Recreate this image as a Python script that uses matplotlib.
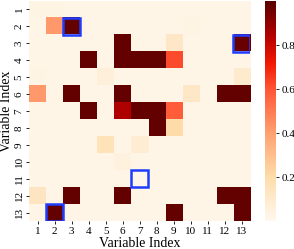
import numpy as np
import matplotlib
matplotlib.use("Agg")
import matplotlib.pyplot as plt
from matplotlib.colors import LinearSegmentedColormap
from matplotlib.patches import Rectangle

plt.rcParams["font.family"] = ["Liberation Serif", "DejaVu Serif"]

labels = [str(i) for i in range(1, 14)]

# row-by-row values of the 13x13 matrix (rows 1..13, cols 1..13)
bg = 0.02
row1 = [0.03, 0.03, bg, bg, bg, bg, bg, bg, bg, bg, bg, bg, bg]
row2 = [bg, 0.42, 0.98, bg, bg, bg, bg, bg, bg, 0.03, bg, bg, bg]
row3 = [bg, bg, bg, bg, bg, 0.98, bg, bg, 0.12, bg, bg, bg, 0.97]
row4 = [bg, bg, bg, 0.98, bg, 0.98, 0.98, 0.98, 0.62, bg, bg, bg, bg]
row5 = [0.03, bg, bg, bg, 0.06, bg, bg, bg, bg, bg, bg, bg, 0.10]
row6 = [0.42, bg, 0.98, bg, bg, 0.98, bg, bg, bg, 0.12, bg, 0.98, 0.98]
row7 = [bg, bg, bg, 0.98, bg, 0.85, 0.98, 0.98, 0.58, bg, bg, bg, bg]
row8 = [bg, bg, bg, bg, bg, bg, bg, 0.98, 0.20, bg, bg, bg, bg]
row9 = [bg, bg, bg, bg, 0.16, bg, 0.08, bg, bg, bg, bg, bg, bg]
row10 = [bg, bg, bg, bg, bg, 0.05, bg, bg, bg, bg, bg, bg, bg]
row11 = [bg, bg, bg, bg, bg, bg, 0.01, bg, bg, bg, bg, bg, bg]
row12 = [0.13, bg, 0.98, bg, bg, 0.98, bg, bg, bg, bg, bg, 0.98, 0.98]
row13 = [bg, 0.98, bg, bg, bg, bg, bg, bg, 0.98, bg, bg, bg, 0.98]

# highlighted cells (1-based row, col)
box_rows = [2, 3, 11, 13]
box_cols = [3, 13, 7, 2]

data = np.array([row1, row2, row3, row4, row5, row6, row7,
                 row8, row9, row10, row11, row12, row13])

cmap = LinearSegmentedColormap.from_list("heat", [
    (0.0, "#fff8ee"),
    (0.2, "#fedcaa"),
    (0.4, "#ffa070"),
    (0.6, "#ff5535"),
    (0.72, "#f01800"),
    (0.85, "#b00000"),
    (1.0, "#580000"),
])

fig = plt.figure(figsize=(2.94, 2.49), dpi=100)
ax = fig.add_axes([0.099, 0.112, 0.752, 0.884])
cax = fig.add_axes([0.901, 0.112, 0.038, 0.884])

im = ax.imshow(data, cmap=cmap, vmin=0.0, vmax=1.0, aspect="auto",
               interpolation="nearest")

for r, c in zip(box_rows, box_cols):
    ax.add_patch(Rectangle((c - 1.5, r - 1.5), 1, 1, fill=False,
                           edgecolor="#1f3cff", linewidth=1.8))

ax.set_xticks(range(13))
ax.set_xticklabels(labels, fontsize=8)
ax.set_yticks(range(13))
ax.set_yticklabels(labels, fontsize=8, rotation=90, va="center")
ax.tick_params(length=2, width=0.6, pad=2)
ax.set_xlabel("Variable Index", fontsize=10, labelpad=1)
ax.set_ylabel("Variable Index", fontsize=10, labelpad=1)
for s in ax.spines.values():
    s.set_visible(False)

cb = fig.colorbar(im, cax=cax, ticks=[0.2, 0.4, 0.6, 0.8])
cb.outline.set_visible(False)
cb.ax.tick_params(labelsize=8, length=2, width=0.6, pad=2)

fig.savefig("out.png", dpi=100)
